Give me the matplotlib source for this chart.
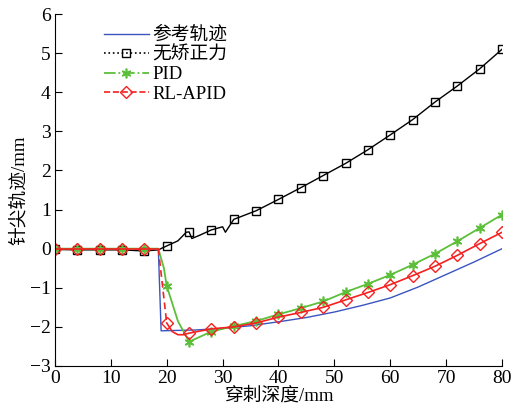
import numpy as np
import matplotlib
matplotlib.use("Agg")
import matplotlib.pyplot as plt
from matplotlib.lines import Line2D

plt.rcParams['font.family'] = ['Liberation Serif', 'Noto Sans CJK SC']
plt.rcParams['axes.unicode_minus'] = True

# ---- data ----
ref_x = [0, 18.5, 19, 25, 30, 35, 40, 45, 50, 55, 60, 65, 70, 75, 80]
ref_y = [0, 0, -2.1, -2.08, -2.04, -1.97, -1.87, -1.76, -1.62, -1.45, -1.26, -0.98, -0.66, -0.34, 0.0]

black_x = [0, 4, 8, 12, 16, 18.5, 20, 22, 23.5, 24, 24.5, 26, 28, 30, 30.5, 32, 36, 40,
           44, 48, 52, 56, 60, 64, 68, 72, 76, 80]
black_y = [-0.02, -0.03, -0.03, -0.03, -0.06, -0.03, 0.07, 0.2, 0.42, 0.43, 0.26, 0.35,
           0.48, 0.56, 0.42, 0.75, 0.97, 1.26, 1.56, 1.87, 2.18, 2.53, 2.91, 3.3, 3.75,
           4.16, 4.6, 5.1]

pid_x = [0, 4, 8, 12, 16, 18.5, 19.5, 20, 22, 24, 28, 32, 36, 40, 44, 48, 52, 56, 60,
         64, 68, 72, 76, 80]
pid_y = [0, 0, 0, 0, 0, 0, -0.5, -0.95, -1.85, -2.38, -2.12, -1.98, -1.85, -1.68, -1.52,
         -1.35, -1.11, -0.9, -0.67, -0.41, -0.13, 0.19, 0.53, 0.87]

rl_x = [0, 4, 8, 12, 16, 18.5, 20, 21, 22, 23, 24, 28, 32, 36, 40, 44, 48, 52, 56, 60,
        64, 68, 72, 76, 80]
rl_y = [0, 0, 0, 0, 0, 0, -1.9, -2.12, -2.2, -2.2, -2.16, -2.05, -2.0, -1.9, -1.75,
        -1.63, -1.5, -1.31, -1.12, -0.92, -0.69, -0.45, -0.17, 0.13, 0.42]

marker_x = list(range(0, 81, 4))
labels = ['参考轨迹', '无矫正力', 'PID', 'RL-APID']
x_ticks = list(range(0, 81, 10))
y_ticks = list(range(-3, 7))

c_blue = '#3a55c0'
c_black = '#000000'
c_green = '#5cbf3a'
c_red = '#f52020'
asterisk = (6, 2, 0)

fig = plt.figure(figsize=(5.23, 4.19), dpi=100)
ax = fig.add_axes([0.105, 0.1265, 0.855, 0.84])

def mk(xs):
    return [i for i, v in enumerate(xs) if v in marker_x]

ax.plot(ref_x, ref_y, color=c_blue, lw=1.0)
ax.plot(black_x, black_y, color=c_black, lw=1.0, marker='s', ms=6, mfc='none',
        mec=c_black, mew=1.0, markevery=mk(black_x))
ax.plot(pid_x, pid_y, color=c_green, lw=1.3, marker=asterisk, ms=7, mec=c_green,
        mew=1.2, markevery=mk(pid_x))
# red: dashed drop part, solid-looking remainder
rx = np.array(rl_x); ry = np.array(rl_y)
drop = (rx >= 18.5) & (rx <= 20)
ax.plot(rx[drop], ry[drop], color=c_red, lw=1.2, ls=(0, (4, 2.5)))
ax.plot(rx[rx <= 18.5], ry[rx <= 18.5], color=c_red, lw=1.2, marker='D', ms=6.5,
        mfc='none', mec=c_red, mew=1.0, markevery=mk(list(rx[rx <= 18.5])))
ax.plot(rx[rx >= 20], ry[rx >= 20], color=c_red, lw=1.2, marker='D', ms=6.5,
        mfc='none', mec=c_red, mew=1.0, markevery=mk(list(rx[rx >= 20])))

ax.set_xlim(0, 80)
ax.set_ylim(-3, 6)
ax.set_xticks(x_ticks)
ax.set_yticks(y_ticks)
ax.spines['top'].set_visible(False)
ax.spines['right'].set_visible(False)
ax.tick_params(direction='in', length=5, labelsize=14, width=0.8, pad=3)
ax.set_xlabel('穿刺深度/mm', fontsize=13.5, labelpad=0)
ax.set_ylabel('针尖轨迹/mm', fontsize=13.5, labelpad=1)

handles = [
    Line2D([], [], color=c_blue, lw=1.0),
    Line2D([], [], color=c_black, lw=1.2, ls=':', marker='s', ms=6, mfc='none'),
    Line2D([], [], color=c_green, lw=1.3, ls='-.', marker=asterisk, ms=7, mew=1.2),
    Line2D([], [], color=c_red, lw=1.2, ls='--', marker='D', ms=6.5, mfc='none'),
]
ax.legend(handles, labels, loc='upper left', bbox_to_anchor=(0.092, 0.985), frameon=False,
          fontsize=13.5, handlelength=2.4, handletextpad=0.2, labelspacing=0.13,
          borderaxespad=0)

fig.savefig('out.png', dpi=100)
